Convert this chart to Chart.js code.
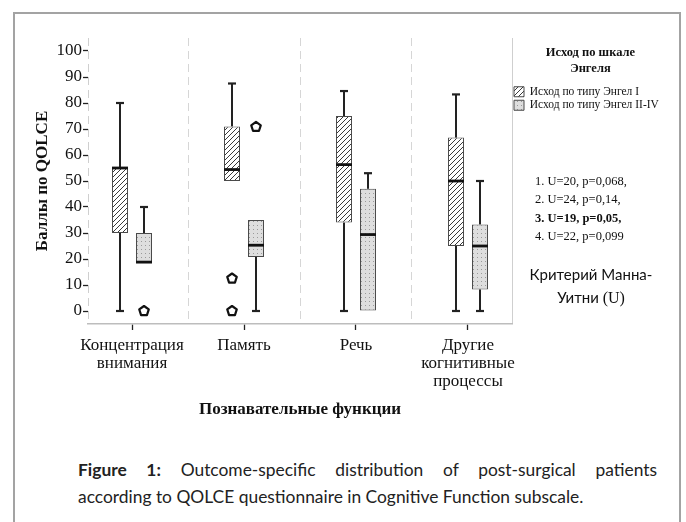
<!DOCTYPE html>
<html><head><meta charset="utf-8">
<script src="https://cdn.jsdelivr.net/npm/chart.js@4"></script>
<style>
html,body{margin:0;padding:0;background:#fff;width:686px;height:522px;overflow:hidden;}
#frame{position:absolute;left:13px;top:12px;width:668px;height:540px;border:2px solid #a3a3a3;box-sizing:border-box;}
#wrap{position:absolute;left:0;top:0;width:686px;height:440px;}
#stats{position:absolute;left:535px;top:172px;font-family:'Liberation Serif',serif;font-size:12.5px;line-height:18.4px;color:#111;white-space:nowrap;}
#mw{position:absolute;left:520px;width:142px;top:263px;text-align:center;font-family:Lato,sans-serif;font-size:15px;line-height:23px;color:#111;}
#mw .s{font-family:'Liberation Serif',serif;font-size:16px;}
#caption{position:absolute;left:78px;width:579px;top:456px;font-family:Lato,sans-serif;font-size:17.4px;line-height:27px;color:#222;}
#caption .l1{text-align:justify;text-align-last:justify;white-space:nowrap;}
#caption .l2{text-align:left;white-space:nowrap;}
</style></head>
<body>
<div id="frame"></div>
<div id="wrap"><canvas id="c" width="686" height="440"></canvas></div>
<div id="stats">
<div>1. U=20, p=0,068,</div>
<div>2. U=24, p=0,14,</div>
<div><b>3. U=19, p=0,05,</b></div>
<div>4. U=22, p=0,099</div>
</div>
<div id="mw">Критерий Манна-<br>Уитни <span class="s">(U)</span></div>
<div id="caption"><div class="l1"><b>Figure 1:</b> Outcome-specific distribution of post-surgical patients</div><div class="l2">according to QOLCE questionnaire in Cognitive Function subscale.</div></div>
<script>
// ---- data ----
const categories = [['Концентрация','внимания'], ['Память'], ['Речь'], ['Другие','когнитивные','процессы']];
const seriesLabels = ['Исход по типу Энгел I', 'Исход по типу Энгел II-IV'];
const legendTitle = ['Исход по шкале', 'Энгеля'];
const yTitle = 'Баллы по QOLCE';
const xTitle = 'Познавательные функции';
const yTickValues = [0,10,20,30,40,50,60,70,80,90,100];
const yGridValues = [5,15,25,35,45,55,65,75,85,95,105];

// Engel I
const e1Min    = [0, 50, 0, 0];
const e1Q1     = [30, 50, 34, 25];
const e1Median = [55, 54.4, 56.3, 50];
const e1Q3     = [55, 71, 75, 66.7];
const e1Max    = [80, 87.5, 84.6, 83.3];
const e1Out    = [[], [12.5, 0], [], []];
// Engel II-IV
const e2Min    = [18.8, 0, 0, 0];
const e2Q1     = [18.8, 20.8, 0, 8.3];
const e2Median = [18.8, 25.3, 29.4, 25];
const e2Q3     = [30, 35, 47, 33.3];
const e2Max    = [40, 35, 53, 50];
const e2Out    = [[0], [70.8], [], []];

// ---- layout targets ----
const plotLeft = 88, plotTop = 38, plotRight = 512, plotBottom = 324;
const canvasH = 440;
const xMin = 0.607, xMax = 4.393;

const serif = 'Liberation Serif';

function makeHatch(){
  const c = document.createElement('canvas'); c.width = 5; c.height = 5;
  const g = c.getContext('2d');
  g.fillStyle = '#fff'; g.fillRect(0,0,5,5);
  g.strokeStyle = '#3a3a3a'; g.lineWidth = 1;
  g.beginPath();
  g.moveTo(-1,6); g.lineTo(6,-1);
  g.moveTo(-1,1); g.lineTo(1,-1);
  g.moveTo(4,6); g.lineTo(6,4);
  g.stroke();
  return g.createPattern(c,'repeat');
}
function makeDots(){
  const c = document.createElement('canvas'); c.width = 4; c.height = 4;
  const g = c.getContext('2d');
  g.fillStyle = '#dedede'; g.fillRect(0,0,4,4);
  g.fillStyle = '#9a9a9a'; g.fillRect(1,1,1,1);
  return g.createPattern(c,'repeat');
}

const stats = [
  {min:e1Min, q1:e1Q1, med:e1Median, q3:e1Q3, max:e1Max, out:e1Out},
  {min:e2Min, q1:e2Q1, med:e2Median, q3:e2Q3, max:e2Max, out:e2Out}
];

const boxPlugin = {
  id: 'boxWhiskers',
  afterDatasetsDraw(chart){
    const ctx = chart.ctx, y = chart.scales.y;
    stats.forEach((s, d) => {
      const meta = chart.getDatasetMeta(d);
      meta.data.forEach((bar, i) => {
        const cx = bar.x, half = bar.width/2;
        const pQ1 = y.getPixelForValue(s.q1[i]), pQ3 = y.getPixelForValue(s.q3[i]);
        const pMin = y.getPixelForValue(s.min[i]), pMax = y.getPixelForValue(s.max[i]);
        const pMed = y.getPixelForValue(s.med[i]);
        ctx.save();
        ctx.strokeStyle = '#222'; ctx.lineCap = 'butt';
        if (s.max[i] > s.q3[i]) {
          ctx.lineWidth = 2;
          ctx.beginPath(); ctx.moveTo(cx, pQ3); ctx.lineTo(cx, pMax); ctx.stroke();
          ctx.lineWidth = 2.2;
          ctx.beginPath(); ctx.moveTo(cx-4, pMax); ctx.lineTo(cx+4, pMax); ctx.stroke();
        }
        if (s.min[i] < s.q1[i]) {
          ctx.lineWidth = 2;
          ctx.beginPath(); ctx.moveTo(cx, pQ1); ctx.lineTo(cx, pMin); ctx.stroke();
          ctx.lineWidth = 2.2;
          ctx.beginPath(); ctx.moveTo(cx-4, pMin); ctx.lineTo(cx+4, pMin); ctx.stroke();
        }
        ctx.strokeStyle = '#111'; ctx.lineWidth = 2.8;
        ctx.beginPath(); ctx.moveTo(cx-half, pMed); ctx.lineTo(cx+half, pMed); ctx.stroke();
        s.out[i].forEach(v => {
          const py = y.getPixelForValue(v), r = 5;
          ctx.beginPath();
          for (let k = 0; k < 5; k++) {
            const a = -Math.PI/2 + k*2*Math.PI/5;
            const px = cx + r*Math.cos(a), pyy = py + r*Math.sin(a);
            k ? ctx.lineTo(px, pyy) : ctx.moveTo(px, pyy);
          }
          ctx.closePath();
          ctx.fillStyle = '#fff'; ctx.fill();
          ctx.strokeStyle = '#111'; ctx.lineWidth = 2.2; ctx.lineJoin = 'round'; ctx.stroke();
        });
        ctx.restore();
      });
    });
  }
};

const hatch = makeHatch(), dots = makeDots();
const gridGray = '#d6d6d6';

const chart = new Chart(document.getElementById('c'), {
  type: 'bar',
  data: {
    datasets: [
      {label: seriesLabels[0], data: categories.map((c,i)=>({x:i+1, y:[e1Q1[i], e1Q3[i]]})),
       backgroundColor: hatch, borderColor:'#4a4a4a', borderWidth:1, borderSkipped:false,
       categoryPercentage: 48/112, barPercentage: 2/3},
      {label: seriesLabels[1], data: categories.map((c,i)=>({x:i+1, y:[e2Q1[i], e2Q3[i]]})),
       backgroundColor: dots, borderColor:'#4a4a4a', borderWidth:1, borderSkipped:false,
       categoryPercentage: 48/112, barPercentage: 2/3}
    ]
  },
  options: {
    responsive: false, animation: false,
    layout: {padding: {left: 20, top: plotTop, right: 10, bottom: 0}},
    scales: {
      x: {
        type: 'linear', min: xMin, max: xMax, position: 'bottom', offset: false,
        afterBuildTicks: s => { s.ticks = categories.map((c,i)=>({value:i+1})); },
        afterFit: s => { s.height = canvasH - plotBottom; },
        ticks: {
          autoSkip: false, maxRotation: 0, padding: 6,
          callback: v => categories[Math.round(v)-1],
          font: {family: serif, size: 17, lineHeight: 1.08}, color: '#111'
        },
        grid: {offset: false, drawOnChartArea: false, drawTicks: true, tickLength: 6, tickColor: '#222', tickWidth: 1.3},
        border: {display: true, color: '#bdbdbd', width: 1.5},
        title: {display: true, text: xTitle, color: '#111',
                font: {family: serif, size: 17, weight: 'bold'}, padding: {top: 0, bottom: 20}}
      },
      xg: {
        type: 'linear', axis: 'x', position: 'bottom', min: xMin, max: xMax, offset: false,
        afterBuildTicks: s => { s.ticks = [xMin, 1.5, 2.5, 3.5, xMax].map(v=>({value:v})); },
        afterFit: s => { s.height = 0; },
        ticks: {display: false},
        grid: {offset: false, drawTicks: false, color: c => (c.tick && (c.tick.value === xMin || c.tick.value === xMax)) ? '#cfcfcf' : gridGray, lineWidth: 1},
        border: {display: false, dash: c => (c.tick && c.tick.value === xMax) ? [] : [8,5]}
      },
      y: {
        min: -5, max: 105,
        afterBuildTicks: s => { s.ticks = yTickValues.concat(yGridValues).sort((a,b)=>a-b).map(v=>({value:v})); },
        afterFit: s => { s.width = plotLeft - 20; },
        ticks: {
          padding: 1, color: '#111', font: {family: serif, size: 17},
          callback: v => (yTickValues.includes(v) ? String(v) : '')
        },
        grid: {
          drawTicks: true, tickLength: 5, tickWidth: 1.3,
          color: c => (c.tick && yTickValues.includes(c.tick.value)) ? 'rgba(0,0,0,0)' : gridGray,
          tickColor: c => (c.tick && yTickValues.includes(c.tick.value)) ? '#222' : 'rgba(0,0,0,0)',
          tickBorderDash: []
        },
        border: {display: false, dash: [8,5]},
        title: {display: true, text: yTitle, color: '#111',
                font: {family: serif, size: 17, weight: 'bold'}, padding: {top: 12, bottom: 0}}
      }
    },
    plugins: {
      legend: {
        position: 'right', align: 'start', fullSize: false,
        title: {display: true, text: legendTitle, color: '#111',
                font: {family: serif, size: 12.5, weight: 'bold', lineHeight: 1.28},
                padding: {top: 9, bottom: 21}},
        labels: {boxWidth: 10, boxHeight: 10, padding: 2, color: '#111',
                 font: {family: serif, size: 11.5}}
      },
      tooltip: {enabled: false}
    }
  },
  plugins: [boxPlugin]
});
const dx = chart.chartArea.right - plotRight;
if (Math.abs(dx) > 0.5) { chart.options.layout.padding.right += dx; chart.update('none'); }
</script>
</body></html>
